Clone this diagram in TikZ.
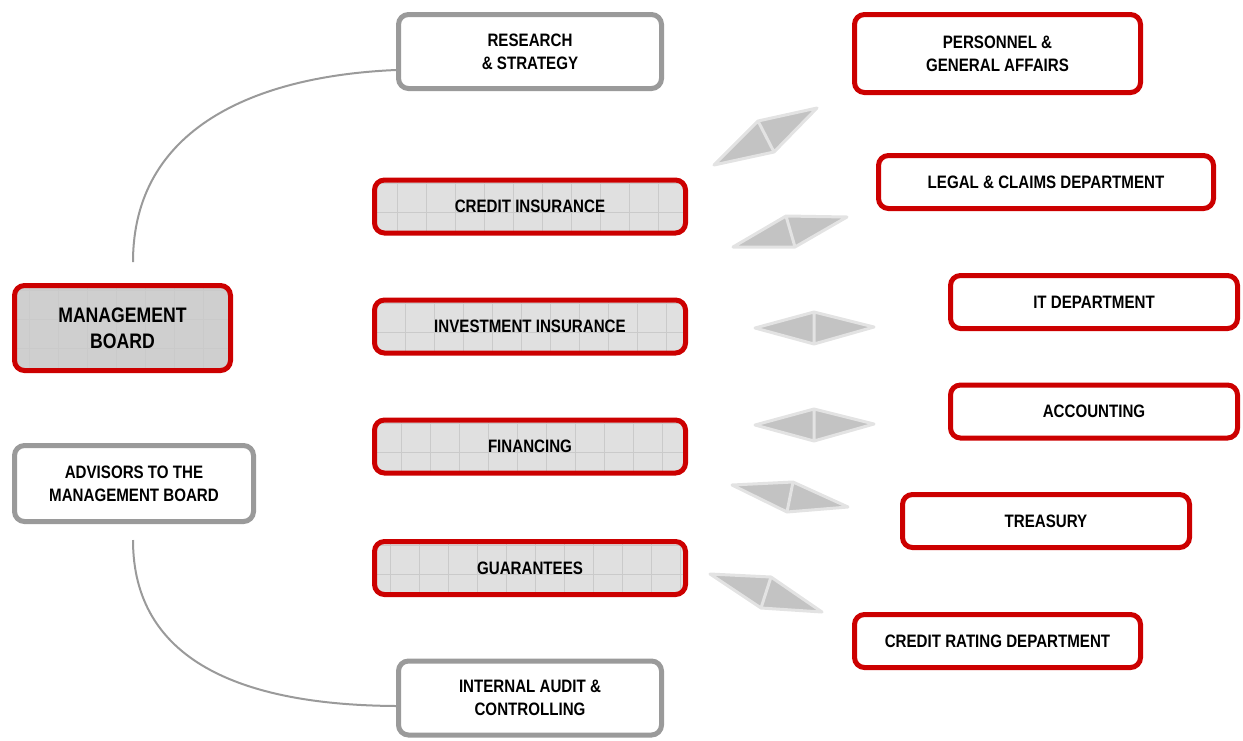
\documentclass[tikz,border=0pt]{standalone}
\usepackage{fontspec}
\newfontfamily\boxfont[FakeStretch=0.84]{Liberation Sans}
\usetikzlibrary{calc}
\definecolor{boxred}{HTML}{CC0000}
\definecolor{boxgray}{HTML}{9A9A9A}
\definecolor{shadefill}{HTML}{E0E0E0}
\definecolor{boardfill}{HTML}{CFCFCF}
\definecolor{gridline}{HTML}{CACACA}
\definecolor{wingfill}{HTML}{C3C3C3}
\definecolor{wingedge}{HTML}{E3E3E3}
\tikzset{
  unit/.style={line width=5pt, rounded corners=10pt, align=center, inner sep=0pt,
    font=\boxfont\bfseries\fontsize{18}{23}\selectfont},
  redunit/.style={unit, draw=boxred, fill=white},
  grayunit/.style={unit, draw=boxgray, fill=white},
  gridunit/.style={redunit, fill=shadefill,
    path picture={\draw[gridline, line width=0.5pt, step=29pt]
      (path picture bounding box.south west) grid (path picture bounding box.north east);}},
  wing/.style={fill=wingfill, draw=wingedge, line width=3pt, line join=round},
  link/.style={draw=boxgray, line width=2pt}
}
\begin{document}
\begin{tikzpicture}[x=1pt, y=-1pt]
\useasboundingbox (0,0) rectangle (1243,740);

% left column
\node[gridunit, fill=boardfill, minimum width=216pt, minimum height=85pt,
  font=\boxfont\bfseries\fontsize{21}{26}\selectfont] (mb) at (122.5,328) {MANAGEMENT\\BOARD};
\node[grayunit, minimum width=239pt, minimum height=76pt] (adv) at (134,483.5) {ADVISORS TO THE\\MANAGEMENT BOARD};
\node[grayunit, minimum width=263pt, minimum height=74pt] (rs) at (530,51.5) {RESEARCH\\\& STRATEGY};
\node[grayunit, minimum width=263pt, minimum height=74pt] (ia) at (530,698) {INTERNAL AUDIT \&\\CONTROLLING};

% business units
\foreach \n/\y/\t in {ci/206.5/CREDIT INSURANCE, ii/326.5/INVESTMENT INSURANCE, fi/446.5/FINANCING, gu/568/GUARANTEES}
  \node[gridunit, minimum width=311pt, minimum height=53pt] (\n) at (530,\y) {\t};

% departments
\node[redunit, minimum width=286pt, minimum height=78pt] (pg) at (997.5,53.5) {PERSONNEL \&\\GENERAL AFFAIRS};
\foreach \n/\x/\y/\w/\t in {lc/1046/182/335/LEGAL \& CLAIMS DEPARTMENT, it/1094/302/287/IT DEPARTMENT,
    ac/1094/411.5/287/ACCOUNTING, tr/1046/521/287/TREASURY, cr/997.5/641/286/CREDIT RATING DEPARTMENT}
  \node[redunit, minimum width=\w pt, minimum height=53pt] (\n) at (\x,\y) {\t};

% arcs
\coordinate (mbtop) at (133,262);
\coordinate (advbot) at (133,540);
\draw[link] (mbtop) .. controls (133,128) and (255,76) .. ($(rs.west)+(0,18.5)$);
\draw[link] (advbot) .. controls (133,660) and (240,705) .. ($(ia.west)+(0,8)$);

% wings
\draw[wing] (714,165) -- (758,121) -- (817,108) -- (774,152) -- cycle (758,121) -- (774,152);
\draw[wing] (733,247) -- (786,216) -- (847,217) -- (795,247) -- cycle (786,216) -- (795,247);
\draw[wing] (755,328) -- (814,312) -- (874,327) -- (814,344) -- cycle (814,312) -- (814,344);
\draw[wing] (755,425) -- (814,409) -- (874,424) -- (814,441) -- cycle (814,409) -- (814,441);
\draw[wing] (732,485) -- (793,482) -- (848,507) -- (787,512) -- cycle (793,482) -- (787,512);
\draw[wing] (710,574) -- (771,577) -- (822,612) -- (761,608) -- cycle (771,577) -- (761,608);
\end{tikzpicture}
\end{document}
